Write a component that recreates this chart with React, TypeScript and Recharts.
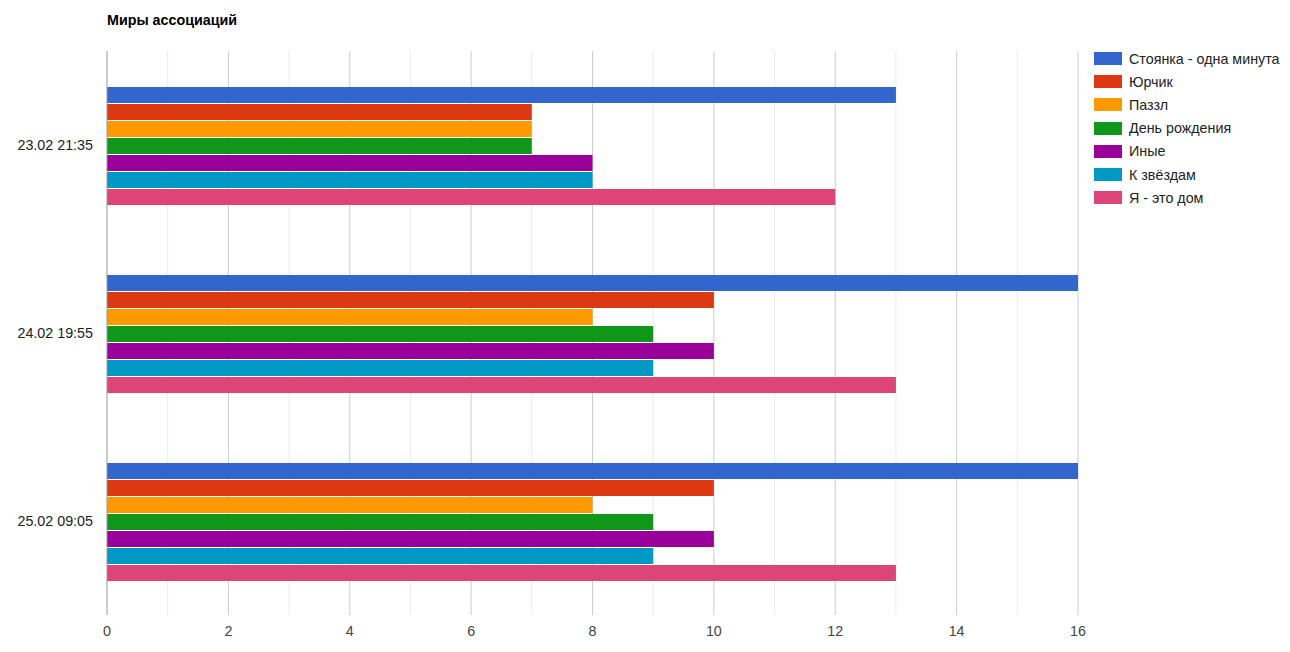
import React from 'react';
import { BarChart, Bar, XAxis, YAxis, CartesianGrid, Legend } from 'recharts';

const sessions = ['23.02 21:35', '24.02 19:55', '25.02 09:05'];

const seriesNames = [
  'Стоянка - одна минута',
  'Юрчик',
  'Паззл',
  'День рождения',
  'Иные',
  'К звёздам',
  'Я - это дом',
];

const seriesColors = ['#3366cc', '#dc3912', '#ff9900', '#109618', '#990099', '#0099c6', '#dd4477'];

const stoyanka = [13, 16, 16];
const yurchik = [7, 10, 10];
const pazzl = [7, 8, 8];
const denRozhdeniya = [7, 9, 9];
const inye = [8, 10, 10];
const kZvezdam = [8, 9, 9];
const yaEtoDom = [12, 13, 13];

const seriesValues = [stoyanka, yurchik, pazzl, denRozhdeniya, inye, kZvezdam, yaEtoDom];

const majorTicks = [0, 2, 4, 6, 8, 10, 12, 14, 16];
const minorTicks = [1, 3, 5, 7, 9, 11, 13, 15];

const data = sessions.map((s, i) => {
  const row: Record<string, string | number> = { session: s };
  seriesNames.forEach((n, k) => { row['s' + k] = seriesValues[k][i]; });
  return row;
});

const FONT = 'Arial, "Liberation Sans", sans-serif';
const FS = 14.3;

const gridGen = (vals: number[]) => (props: any) => {
  const { xAxis, offset } = props;
  if (xAxis && typeof xAxis.scale === 'function') {
    return vals.map((v) => xAxis.scale(v));
  }
  return vals.map((v) => offset.left + (v / 16) * offset.width);
};

const LegendBox = () => (
  <div style={{ fontFamily: FONT, fontSize: FS, color: '#222' }}>
    {seriesNames.map((n, k) => (
      <div key={n} style={{ height: 23.2, display: 'flex', alignItems: 'center' }}>
        <span style={{ width: 28, height: 13, background: seriesColors[k], display: 'inline-block', marginRight: 7 }} />
        <span style={{ whiteSpace: 'nowrap' }}>{n}</span>
      </div>
    ))}
  </div>
);

export default function App() {
  return (
    <div style={{ position: 'absolute', left: 0, top: 0, width: 1290, height: 652, background: '#fff' }}>
      <div style={{ position: 'absolute', left: 107, top: 12, fontFamily: FONT, fontSize: FS, fontWeight: 'bold', color: '#000' }}>
        Миры ассоциаций
      </div>
      <BarChart
        width={1290}
        height={652}
        data={data}
        layout="vertical"
        margin={{ top: 51, right: 16, bottom: 7, left: 7 }}
        barCategoryGap={36}
        barGap={1}
      >
        <CartesianGrid horizontal={false} stroke="#ebebeb" verticalCoordinatesGenerator={gridGen(minorTicks)} />
        <CartesianGrid horizontal={false} stroke="#cccccc" verticalCoordinatesGenerator={gridGen(majorTicks.slice(1))} />
        <XAxis
          type="number"
          domain={[0, 16]}
          ticks={majorTicks}
          height={30}
          axisLine={false}
          tickLine={false}
          tickMargin={5}
          tick={{ fontSize: FS, fill: '#444', fontFamily: FONT }}
        />
        <YAxis
          type="category"
          dataKey="session"
          width={100}
          axisLine={{ stroke: '#999' }}
          tickLine={false}
          tickMargin={8}
          tick={{ fontSize: FS, fill: '#222', fontFamily: FONT }}
        />
        <Legend
          layout="vertical"
          align="right"
          verticalAlign="top"
          content={() => <LegendBox />}
          wrapperStyle={{ left: 1094, top: 47, width: 196, right: 'auto' }}
        />
        {seriesNames.map((n, k) => (
          <Bar key={n} dataKey={'s' + k} name={n} fill={seriesColors[k]} isAnimationActive={false} />
        ))}
      </BarChart>
    </div>
  );
}
